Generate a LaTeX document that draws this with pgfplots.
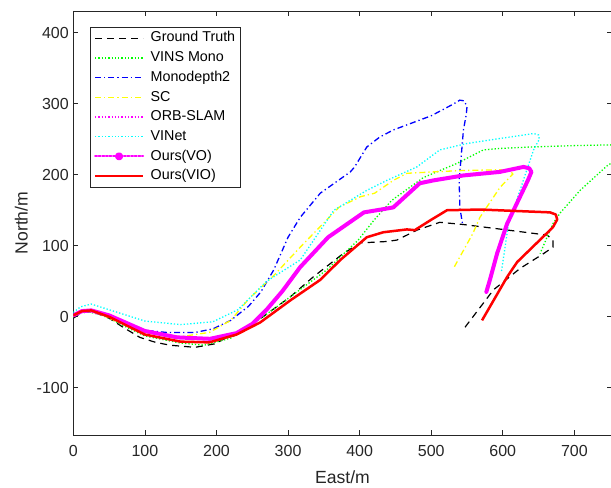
\documentclass[border=0pt]{standalone}
\usepackage{fontspec}
\setmainfont{Liberation Sans}
\usepackage{pgfplots}
\pgfplotsset{compat=1.18}
\usetikzlibrary{calc}

\definecolor{axgray}{rgb}{0.15,0.15,0.15}
\definecolor{mgreen}{rgb}{0,1,0}
\definecolor{mblue}{rgb}{0,0,1}
\definecolor{myellow}{rgb}{1,1,0}
\definecolor{mmagenta}{rgb}{1,0,1}
\definecolor{mcyan}{rgb}{0,1,1}
\definecolor{mred}{rgb}{1,0,0}

\begin{document}
\begin{tikzpicture}
\begin{axis}[
    name=ax,
    scale only axis,
    width=538.2pt,
    height=424pt,
    xmin=0, xmax=752,
    ymin=-166.5, ymax=430.5,
    xtick={0,100,...,700},
    ytick={-100,0,...,400},
    tick align=inside,
    major tick length=5pt,
    axis line style={axgray, line width=0.7pt},
    every tick/.style={axgray, line width=0.7pt},
    tick label style={font=\fontsize{16}{19}\selectfont, text=axgray},
    xticklabel style={yshift=-7pt},
    yticklabel style={xshift=-1pt},
    /pgf/number format/assume math mode=true,
    xlabel={East/m},
    ylabel={North/m},
    label style={font=\fontsize{17.6}{20}\selectfont, text=axgray, inner sep=0pt},
    xlabel style={at={(axis description cs:0.5,0)}, anchor=base, yshift=-48pt},
    ylabel style={at={(axis description cs:0,0.5)}, anchor=center, yshift=52pt},
    legend cell align=left,
    legend image code/.code={\draw[#1] (0pt,0pt) -- (48pt,0pt); \path (52pt,0pt);},
    legend style={
        at={(0,1)}, anchor=north west, xshift=16.7pt, yshift=-16pt,
        font=\fontsize{14.3}{16}\selectfont,
        draw=axgray, line width=0.6pt,
        inner xsep=3.5pt, inner ysep=2.5pt,
        row sep=3pt,
        nodes={inner sep=1.6pt, text height=10.5pt, text depth=3pt},
    },
]
% Ground Truth
\addplot[black, line width=1.2pt, dash pattern=on 7pt off 5pt] coordinates {
(0,-2) (10,5) (20,7) (35,4) (50,-2) (70,-15) (93,-29) (115,-36) (135,-40) (170,-43)
(198,-38) (233,-19) (265,0) (303,28) (335,56) (377,89) (401,104) (438,106)
(452,108) (466,115) (480,122) (512,133) (544,130) (592,124) (662,115) (670,108) (670,98)
(657,89) (624,68) (587,38) (547,-15)};
% VINS Mono
\addplot[mgreen, line width=1.3pt, dash pattern=on 1.3pt off 2pt] coordinates {
(0,0) (10,6) (20,7) (35,4) (50,-2) (75,-15) (100,-27) (150,-37) (183,-40) (220,-30)
(265,0) (303,28) (354,66) (398,108) (420,136) (445,164) (489,196) (536,216)
(573,235) (596,237) (638,239) (700,241) (750,242) (765,240) (770,230)
(760,222) (745,212) (708,178) (680,146) (670,131) (652,89)};
% Monodepth2
\addplot[mblue, line width=1.3pt, dash pattern=on 6pt off 3pt on 1.3pt off 3pt] coordinates {
(0,0) (10,7) (20,9) (35,6) (60,-5) (90,-18) (130,-22) (170,-22) (195,-17) (220,-5)
(245,15) (262,35) (280,66) (300,112) (317,140) (345,174) (387,204) (393,211)
(410,239) (428,253) (447,263) (500,283) (530,299) (540,305) (546,304) (550,296)
(549,285) (545,263) (543,239) (539,192) (540,154) (544,129)};
% SC
\addplot[myellow, line width=1.3pt, dash pattern=on 6pt off 3pt on 1.3pt off 3pt] coordinates {
(0,0) (10,7) (20,8) (35,5) (50,-2) (100,-22) (150,-28) (190,-22) (220,-5) (245,25)
(280,58) (317,98) (371,154) (401,169) (421,174) (447,192) (466,202) (503,204)
(545,206) (596,207) (610,206) (614,201) (596,182) (568,140) (558,117) (531,68)};
% ORB-SLAM (legend only)
\addlegendimage{mmagenta, line width=1.3pt, dash pattern=on 1.3pt off 2pt}
% VINet
\addplot[mcyan, line width=1.3pt, dash pattern=on 1.3pt off 2pt] coordinates {
(0,6) (10,14) (25,18) (50,10) (100,-6) (150,-11) (195,-7) (230,10) (270,50) (317,80)
(364,150) (410,178) (438,192) (480,211) (512,235) (550,244) (596,251) (643,258)
(650,256) (651,250) (643,235) (624,178) (608,131) (598,63)};
% Ours(VO)
\addplot[mmagenta, line width=4pt, line join=round, line cap=round,
    legend image code/.code={
        \draw[mmagenta, line width=2pt, dash pattern=on 2pt off 1.6pt] (0pt,0pt) -- (48pt,0pt);
        \fill[mmagenta] (24pt,0pt) circle (2pt); \path (52pt,0pt);}] coordinates {
(0,2) (12,8) (25,9) (50,2) (100,-20) (145,-29) (191,-31) (228,-23) (250,-10) (270,10)
(292,36) (317,70) (356,112) (406,147) (430,151) (447,154) (484,188) (503,192) (545,199)
(596,204) (629,211) (637,209) (640,204) (635,192) (606,131) (592,89) (582,52) (577,35)};
% Ours(VIO)
\addplot[mred, line width=2.5pt, line join=round] coordinates {
(0,2) (12,8) (25,9) (50,0) (100,-25) (150,-35) (190,-36) (228,-25) (261,-8) (303,23)
(345,52) (373,80) (410,112) (433,119) (466,123) (477,122) (499,136) (522,150)
(569,151) (666,147) (674,144) (676,137) (670,126) (620,77) (606,56) (571,-5)};
\legend{Ground Truth, VINS Mono, Monodepth2, SC, ORB-SLAM, VINet, Ours(VO), Ours(VIO)}
\end{axis}
\pgfresetboundingbox
\path[use as bounding box] ($(ax.south west)+(-73.3pt,-52pt)$) rectangle ($(ax.north east)+(-0.6pt,11pt)$);
\end{tikzpicture}
\end{document}
